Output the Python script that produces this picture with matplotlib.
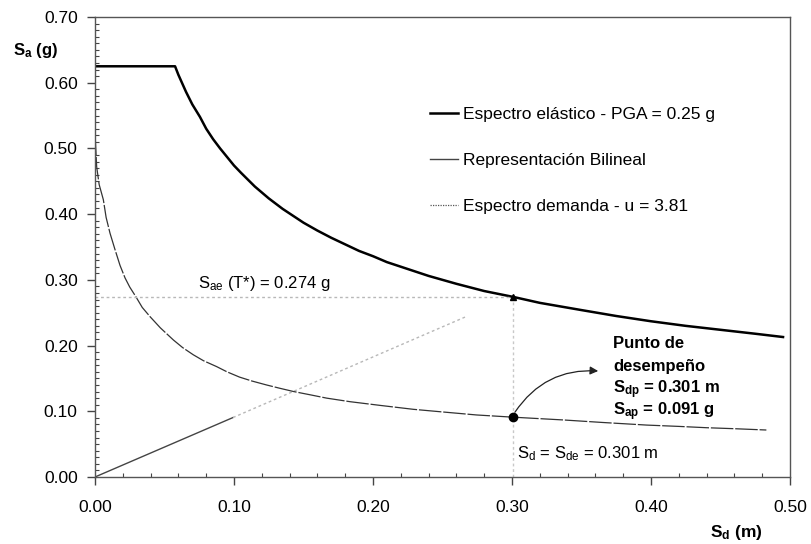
import matplotlib
matplotlib.use("Agg")
import matplotlib.pyplot as plt
from matplotlib.lines import Line2D
from matplotlib.patches import FancyArrowPatch
from matplotlib.ticker import MultipleLocator, FormatStrFormatter

plt.rcParams["font.family"] = ["Liberation Sans", "DejaVu Sans"]
plt.rcParams["mathtext.fontset"] = "custom"
plt.rcParams["mathtext.rm"] = "Liberation Sans"
plt.rcParams["mathtext.it"] = "Liberation Sans"
plt.rcParams["mathtext.bf"] = "Liberation Sans:bold"

# Elastic spectrum (ADRS), PGA = 0.25 g
sd_elastic = [0.0, 0.0576, 0.060, 0.0655, 0.070, 0.0755, 0.080, 0.085, 0.090,
              0.095, 0.100, 0.105, 0.115, 0.125, 0.135, 0.150, 0.160, 0.170,
              0.180, 0.190, 0.200, 0.210, 0.220, 0.240, 0.260, 0.280, 0.301,
              0.320, 0.350, 0.375, 0.400, 0.425, 0.450, 0.475, 0.495]
sa_elastic = [0.625, 0.625, 0.612, 0.586, 0.567, 0.548, 0.530, 0.514, 0.500,
              0.487, 0.474, 0.463, 0.442, 0.424, 0.408, 0.387, 0.375, 0.364,
              0.354, 0.344, 0.336, 0.327, 0.320, 0.306, 0.294, 0.283, 0.274,
              0.265, 0.254, 0.245, 0.237, 0.230, 0.224, 0.218, 0.213]

# Inelastic demand spectrum, u = 3.81
sd_demand = [0.0, 0.0012, 0.003, 0.006, 0.008, 0.0108, 0.0144, 0.018, 0.0216,
             0.025, 0.0295, 0.034, 0.0396, 0.047, 0.0564, 0.063, 0.0707, 0.078,
             0.0875, 0.095, 0.104, 0.113, 0.1235, 0.133, 0.143, 0.155, 0.1667,
             0.1835, 0.205, 0.229, 0.250, 0.2745, 0.301, 0.337, 0.365, 0.397,
             0.420, 0.440, 0.460, 0.483]
sa_demand = [0.524, 0.472, 0.445, 0.422, 0.395, 0.371, 0.346, 0.322, 0.303,
             0.289, 0.274, 0.258, 0.244, 0.227, 0.2085, 0.197, 0.186, 0.177,
             0.168, 0.160, 0.152, 0.146, 0.140, 0.135, 0.130, 0.125, 0.120,
             0.1146, 0.109, 0.103, 0.099, 0.0944, 0.091, 0.0868, 0.083, 0.079,
             0.077, 0.075, 0.0735, 0.0715]

# Bilinear representation (elastic branch) and its extension
sd_bilinear = [0.0, 0.0993]
sa_bilinear = [0.0, 0.0905]
sd_extension = [0.0993, 0.268]
sa_extension = [0.0905, 0.245]

# Performance point and elastic ordinate at T*
sd_perf = 0.301
sa_perf = 0.091
sa_elastic_tstar = 0.274

x_ticks = [0.0, 0.1, 0.2, 0.3, 0.4, 0.5]
y_ticks = [0.0, 0.1, 0.2, 0.3, 0.4, 0.5, 0.6, 0.7]

fig = plt.figure(figsize=(8.11, 5.44), dpi=100)
ax = fig.add_axes([95 / 811, 1 - 477 / 544, 695 / 811, 460 / 544])

ax.plot(sd_elastic, sa_elastic, color="black", lw=1.8, solid_joinstyle="round")
ax.plot(sd_bilinear, sa_bilinear, color="#444444", lw=1.0)
ax.plot(sd_extension, sa_extension, color="#b8b8b8", lw=1.0, ls=(0, (2, 2)))
ax.plot(sd_demand, sa_demand, color="#333333", lw=0.9, ls=(0, (18, 1.5)))

# Reference lines for T*
ax.plot([0.0, sd_perf], [sa_elastic_tstar, sa_elastic_tstar], color="#b8b8b8", lw=1.0, ls=(0, (2, 2)))
ax.plot([sd_perf, sd_perf], [0.0, sa_elastic_tstar], color="#c8c8c8", lw=1.0, ls=(0, (2, 2)))

ax.plot([sd_perf], [sa_perf], "o", color="black", ms=6, zorder=5)
ax.plot([sd_perf], [sa_elastic_tstar], "^", color="black", ms=4, zorder=5)

arrow = FancyArrowPatch((sd_perf, sa_perf + 0.004), (0.364, 0.161),
                        connectionstyle="arc3,rad=-0.3", arrowstyle="-|>",
                        mutation_scale=12, color="#222222", lw=0.9)
ax.add_patch(arrow)

fs = 12
ax.text(0.373, 0.2024, "Punto de", fontsize=fs, fontweight="bold", va="center", ha="left")
ax.text(0.373, 0.1674, "desempeño", fontsize=fs, fontweight="bold", va="center", ha="left")
ax.text(0.373, 0.1324, r"$\mathbf{S_{dp}}$ = 0.301 m", fontsize=fs, fontweight="bold", va="center", ha="left")
ax.text(0.373, 0.0989, r"$\mathbf{S_{ap}}$ = 0.091 g", fontsize=fs, fontweight="bold", va="center", ha="left")

ax.text(0.074, 0.295, r"S$_{\mathrm{ae}}$ (T*) = 0.274 g", fontsize=fs, va="center", ha="left")
ax.text(0.3034, 0.035, r"S$_{\mathrm{d}}$ = S$_{\mathrm{de}}$ = 0.301 m", fontsize=fs, va="center", ha="left")

handles = [
    Line2D([], [], color="black", lw=1.8),
    Line2D([], [], color="#444444", lw=1.0),
    Line2D([], [], color="#555555", lw=0.9, ls=(0, (1, 1))),
]
labels = ["Espectro elástico - PGA = 0.25 g", "Representación Bilineal",
          "Espectro demanda - u = 3.81"]
ax.legend(handles, labels, loc="upper left", bbox_to_anchor=(0.482, 0.8055),
          frameon=False, fontsize=12.5, handlelength=1.6, handletextpad=0.3,
          labelspacing=1.78, borderpad=0, borderaxespad=0)

ax.set_xlim(0, 0.5)
ax.set_ylim(0, 0.7)
ax.set_xticks(x_ticks)
ax.set_yticks(y_ticks)
ax.xaxis.set_major_formatter(FormatStrFormatter("%.2f"))
ax.yaxis.set_major_formatter(FormatStrFormatter("%.2f"))
ax.xaxis.set_minor_locator(MultipleLocator(0.02))
ax.yaxis.set_minor_locator(MultipleLocator(0.01))
ax.tick_params(which="major", direction="out", length=5.5, width=1, color="#444444",
               labelsize=12.5)
ax.tick_params(which="minor", direction="in", length=3, width=0.8, color="#444444")
ax.tick_params(axis="x", which="major", pad=11)
ax.tick_params(axis="y", which="major", pad=7)
for side in ["left", "bottom", "top", "right"]:
    ax.spines[side].set_color("#555555")
    ax.spines[side].set_linewidth(1.0)

fig.text(13 / 811, 1 - 50 / 544, r"$\mathbf{S_a}$ (g)", fontsize=12, fontweight="bold",
         ha="left", va="center")
fig.text(763 / 811, 1 - 532 / 544, r"$\mathbf{S_d}$ (m)", fontsize=12.5, fontweight="bold",
         ha="right", va="center")

fig.savefig("out.png", dpi=100)
